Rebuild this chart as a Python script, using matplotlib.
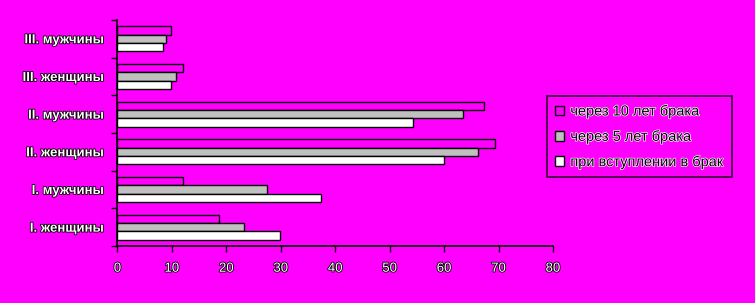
import matplotlib
matplotlib.use("Agg")
import matplotlib.pyplot as plt
import matplotlib.patheffects as pe
import numpy as np

categories = ["I. женщины", "I. мужчины", "II. женщины", "II. мужчины", "III. женщины", "III. мужчины"]
series_names = ["через 10 лет брака", "через 5 лет брака", "при вступлении в брак"]
after10 = [18.7, 12.1, 69.3, 67.4, 12.1, 9.8]
after5 = [23.3, 27.5, 66.3, 63.5, 10.8, 9.0]
at_marriage = [29.9, 37.3, 60.0, 54.2, 9.8, 8.3]
xticks = [0, 10, 20, 30, 40, 50, 60, 70, 80]

MAG = "#FF00FF"
colors = [MAG, "#C0C0C0", "#FFFFFF"]

plt.rcParams['font.family'] = ['Liberation Sans', 'DejaVu Sans']

fig = plt.figure(figsize=(7.55, 3.03), dpi=100, facecolor=MAG)
ax = fig.add_axes([0.1556, 0.188, 0.5768, 0.746])
ax.set_facecolor(MAG)

y = np.arange(len(categories))
h = 0.22
offsets = [0.22, 0.0, -0.22]
handles = []
for vals, off, col, name in zip([after10, after5, at_marriage], offsets, colors, series_names):
    b = ax.barh(y + off, vals, height=h, color=col, edgecolor="black", linewidth=1.0, label=name)
    handles.append(b)

ax.set_xlim(0, 80)
ax.set_ylim(-0.5, 5.5)
ax.set_xticks(xticks)
ax.set_xticklabels([str(t) for t in xticks])
ax.set_yticks(y)
ax.set_yticklabels(categories)
ax.set_yticks(np.arange(-0.5, 6.0, 1.0), minor=True)
ax.tick_params(axis='y', which='major', length=0, pad=10)
ax.tick_params(axis='y', which='minor', length=4, width=1, color='black', direction='out')
ax.tick_params(axis='x', which='major', length=4, width=1, color='black', direction='out', pad=8)

stroke = [pe.withStroke(linewidth=1.2, foreground='black')]
for lab in ax.get_yticklabels():
    lab.set_color('white')
    lab.set_fontsize(9.5)
    lab.set_fontweight('bold')
    lab.set_path_effects(stroke)
for lab in ax.get_xticklabels():
    lab.set_color('white')
    lab.set_fontsize(9.5)
    lab.set_path_effects(stroke)

for s in ['top', 'right']:
    ax.spines[s].set_visible(False)
for s in ['left', 'bottom']:
    ax.spines[s].set_color('black')
    ax.spines[s].set_linewidth(1.2)

leg = fig.legend(handles=handles, labels=series_names, loc='upper left',
                 bbox_to_anchor=(0.7245, 0.683), frameon=True, fancybox=False,
                 facecolor=MAG, edgecolor='black', fontsize=10.5,
                 handlelength=0.65, handleheight=0.65, handletextpad=0.4,
                 labelspacing=0.75, borderpad=0.55, borderaxespad=0)
leg.get_frame().set_linewidth(1.2)
for t in leg.get_texts():
    t.set_color('black')
    t.set_path_effects([pe.withStroke(linewidth=1.0, foreground='white')])

fig.savefig("out.png", dpi=100, facecolor=MAG)
